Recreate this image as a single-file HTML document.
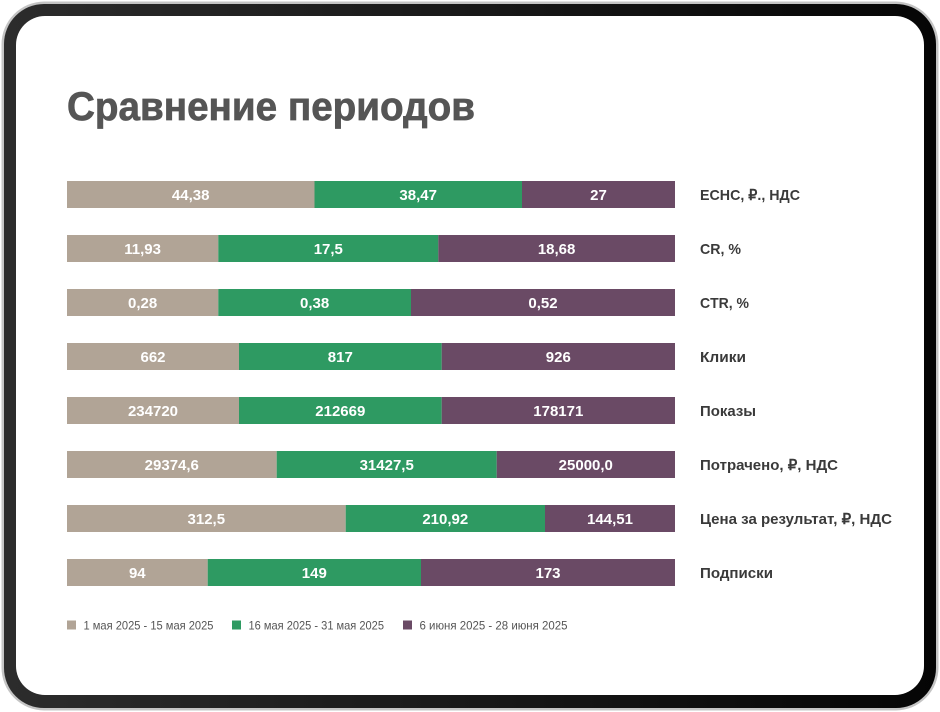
<!DOCTYPE html>
<html>
<head>
<meta charset="utf-8">
<style>
  html,body{margin:0;padding:0;background:#ffffff;}
  body{width:940px;height:712px;overflow:hidden;}
  svg{display:block;}
  .v{font-family:"Liberation Sans","Noto Sans CJK SC",sans-serif;font-weight:bold;font-size:15px;fill:#ffffff;text-anchor:middle;}
  .l{font-family:"Liberation Sans","Noto Sans CJK SC",sans-serif;font-weight:bold;font-size:15px;fill:#3a3a3a;}
  .g{font-family:"Liberation Sans","Noto Sans CJK SC",sans-serif;font-size:12px;fill:#555555;}
  .t{font-family:"Liberation Sans","Noto Sans CJK SC",sans-serif;font-weight:bold;font-size:40px;fill:#555555;stroke:#555555;stroke-width:0.7px;}
</style>
</head>
<body>
<svg width="940" height="712" viewBox="0 0 940 712" xmlns="http://www.w3.org/2000/svg">
  <defs>
    <linearGradient id="fr" x1="0" y1="0" x2="1" y2="0">
      <stop offset="0" stop-color="#2c2c2c"/>
      <stop offset="1" stop-color="#050505"/>
    </linearGradient>
  </defs>
  <!-- device frame -->
  <rect x="1.5" y="1.5" width="937" height="709" rx="43" ry="43" fill="#c4c4c4"/>
  <rect x="4" y="4" width="932" height="704" rx="40" ry="40" fill="url(#fr)"/>
  <rect x="16" y="16" width="908" height="679" rx="29" ry="29" fill="#ffffff"/>

  <!-- title -->
  <text class="t" x="67" y="120" textLength="408" lengthAdjust="spacingAndGlyphs">Сравнение периодов</text>

  <!-- Row 1 -->
  <rect x="67" y="181" width="247.5" height="27" fill="#b1a496"/>
  <rect x="314.5" y="181" width="207.5" height="27" fill="#2e9a62"/>
  <rect x="522" y="181" width="153" height="27" fill="#6a4a65"/>
  <text class="v" x="190.7" y="200">44,38</text>
  <text class="v" x="418.2" y="200">38,47</text>
  <text class="v" x="598.5" y="200">27</text>
  <text class="l" x="700" y="200" textLength="100" lengthAdjust="spacingAndGlyphs">ЕСНС, ₽., НДС</text>

  <!-- Row 2 -->
  <rect x="67" y="235" width="151.3" height="27" fill="#b1a496"/>
  <rect x="218.3" y="235" width="220" height="27" fill="#2e9a62"/>
  <rect x="438.3" y="235" width="236.7" height="27" fill="#6a4a65"/>
  <text class="v" x="142.6" y="254">11,93</text>
  <text class="v" x="328.3" y="254">17,5</text>
  <text class="v" x="556.6" y="254">18,68</text>
  <text class="l" x="700" y="254" textLength="41" lengthAdjust="spacingAndGlyphs">CR, %</text>

  <!-- Row 3 -->
  <rect x="67" y="289" width="151.3" height="27" fill="#b1a496"/>
  <rect x="218.3" y="289" width="192.7" height="27" fill="#2e9a62"/>
  <rect x="411" y="289" width="264" height="27" fill="#6a4a65"/>
  <text class="v" x="142.6" y="308">0,28</text>
  <text class="v" x="314.6" y="308">0,38</text>
  <text class="v" x="543" y="308">0,52</text>
  <text class="l" x="700" y="308" textLength="49" lengthAdjust="spacingAndGlyphs">CTR, %</text>

  <!-- Row 4 -->
  <rect x="67" y="343" width="172" height="27" fill="#b1a496"/>
  <rect x="239" y="343" width="202.7" height="27" fill="#2e9a62"/>
  <rect x="441.7" y="343" width="233.3" height="27" fill="#6a4a65"/>
  <text class="v" x="153" y="362">662</text>
  <text class="v" x="340.3" y="362">817</text>
  <text class="v" x="558.3" y="362">926</text>
  <text class="l" x="700" y="362" textLength="46" lengthAdjust="spacingAndGlyphs">Клики</text>

  <!-- Row 5 -->
  <rect x="67" y="397" width="172" height="27" fill="#b1a496"/>
  <rect x="239" y="397" width="202.7" height="27" fill="#2e9a62"/>
  <rect x="441.7" y="397" width="233.3" height="27" fill="#6a4a65"/>
  <text class="v" x="153" y="416">234720</text>
  <text class="v" x="340.3" y="416">212669</text>
  <text class="v" x="558.3" y="416">178171</text>
  <text class="l" x="700" y="416" textLength="56" lengthAdjust="spacingAndGlyphs">Показы</text>

  <!-- Row 6 -->
  <rect x="67" y="451" width="209.7" height="27" fill="#b1a496"/>
  <rect x="276.7" y="451" width="220" height="27" fill="#2e9a62"/>
  <rect x="496.7" y="451" width="178.3" height="27" fill="#6a4a65"/>
  <text class="v" x="171.8" y="470">29374,6</text>
  <text class="v" x="386.7" y="470">31427,5</text>
  <text class="v" x="585.8" y="470">25000,0</text>
  <text class="l" x="700" y="470" textLength="138" lengthAdjust="spacingAndGlyphs">Потрачено, ₽, НДС</text>

  <!-- Row 7 -->
  <rect x="67" y="505" width="278.7" height="27" fill="#b1a496"/>
  <rect x="345.7" y="505" width="199.3" height="27" fill="#2e9a62"/>
  <rect x="545" y="505" width="130" height="27" fill="#6a4a65"/>
  <text class="v" x="206.3" y="524">312,5</text>
  <text class="v" x="445.3" y="524">210,92</text>
  <text class="v" x="610" y="524">144,51</text>
  <text class="l" x="700" y="524" textLength="192" lengthAdjust="spacingAndGlyphs">Цена за результат, ₽, НДС</text>

  <!-- Row 8 -->
  <rect x="67" y="559" width="140.7" height="27" fill="#b1a496"/>
  <rect x="207.7" y="559" width="213.3" height="27" fill="#2e9a62"/>
  <rect x="421" y="559" width="254" height="27" fill="#6a4a65"/>
  <text class="v" x="137.3" y="578">94</text>
  <text class="v" x="314.3" y="578">149</text>
  <text class="v" x="548" y="578">173</text>
  <text class="l" x="700" y="578" textLength="73" lengthAdjust="spacingAndGlyphs">Подписки</text>

  <!-- Legend -->
  <rect x="67" y="620.5" width="9" height="9" fill="#b1a496"/>
  <text class="g" x="83.5" y="629.5" textLength="130" lengthAdjust="spacingAndGlyphs">1 мая 2025 - 15 мая 2025</text>
  <rect x="232" y="620.5" width="9" height="9" fill="#2e9a62"/>
  <text class="g" x="248.5" y="629.5" textLength="135.5" lengthAdjust="spacingAndGlyphs">16 мая 2025 - 31 мая 2025</text>
  <rect x="403" y="620.5" width="9" height="9" fill="#6a4a65"/>
  <text class="g" x="419.5" y="629.5" textLength="148" lengthAdjust="spacingAndGlyphs">6 июня 2025 - 28 июня 2025</text>
</svg>
</body>
</html>
